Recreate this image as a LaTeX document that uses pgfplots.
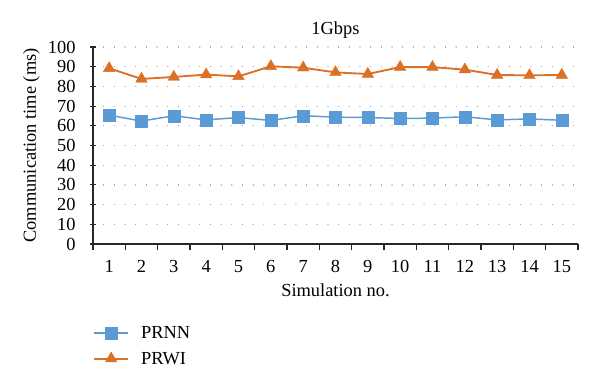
\documentclass[border=0pt]{standalone}
\usepackage{fontspec}
\setmainfont{Liberation Serif}
\usepackage{pgfplots}
\pgfplotsset{compat=1.18}
\definecolor{cblue}{RGB}{91,155,213}
\definecolor{corange}{RGB}{218,113,38}
\definecolor{cgrid}{RGB}{150,150,150}
\definecolor{caxis}{RGB}{40,40,40}
\begin{document}
\begin{tikzpicture}[font=\fontsize{13.8pt}{16.5pt}\selectfont]
\path[use as bounding box] (-69.75pt,-104.25pt) rectangle (380.25pt,183pt);
\begin{axis}[
  at={(0pt,0pt)}, anchor=south west,
  scale only axis, width=363.75pt, height=147.75pt,
  /pgf/number format/assume math mode=true,
  xmin=0.5, xmax=15.5, ymin=0, ymax=100,
  axis x line*=bottom, axis y line*=left,
  axis line style={caxis, line width=0.8pt, -},
  xtick={1,...,15},
  minor xtick={0.5,1.5,...,15.5},
  major x tick style={draw=none},
  minor x tick style={caxis, line width=0.8pt},
  xtick align=outside,
  minor tick length=4.5pt,
  ytick={0,10,...,100},
  y tick style={caxis, line width=0.8pt},
  ytick align=center,
  major tick length=4pt,
  ymajorgrids,
  grid style={cgrid, line width=0.9pt, dash pattern=on 0.01pt off 8pt, line cap=round},
  xticklabel style={anchor=base, inner sep=0pt, yshift=-17.5pt},
  yticklabel style={anchor=east, inner sep=0pt, xshift=-10.9pt},
  every axis title shift=0pt,
  title={1Gbps},
  title style={at={(axis description cs:0.5,1)}, anchor=base, inner sep=0pt, yshift=9.75pt},
  xlabel={Simulation no.},
  xlabel style={at={(axis description cs:0.5,0)}, anchor=base, inner sep=0pt, yshift=-39pt},
  ylabel={Communication time (ms)},
  ylabel style={at={(axis description cs:0,0.5)}, anchor=base, inner sep=0pt, yshift=42.75pt},
  legend style={draw=none, fill=none, at={(axis description cs:0,0)}, anchor=north west,
    yshift=-62pt, inner sep=0pt, row sep=9.75pt,
    nodes={inner sep=0pt, text height=9pt, text depth=0pt},
    /tikz/every odd column/.append style={column sep=9pt}},
  legend cell align=left,
  legend image code/.code={\draw[mark repeat=2,mark phase=2,#1] plot coordinates {(0pt,0pt) (12.75pt,0pt) (25.5pt,0pt)};},
]
\addplot[cblue, line width=1.1pt, mark=square*, mark size=4.5pt, mark options={fill=cblue, draw=cblue, line width=0.3pt}]
coordinates {(1,65.4) (2,62.4) (3,65.1) (4,63.0) (5,64.2) (6,62.7) (7,65.1) (8,64.4) (9,64.2) (10,63.7) (11,63.9) (12,64.6) (13,63.0) (14,63.5) (15,62.8)};
\addlegendentry{PRNN}
\addplot[corange, line width=1.4pt, mark=triangle*, mark size=5pt, mark options={fill=corange, draw=corange, line width=0.3pt}]
coordinates {(1,89.2) (2,83.8) (3,84.8) (4,86.0) (5,85.1) (6,90.2) (7,89.5) (8,87.1) (9,86.3) (10,89.8) (11,89.8) (12,88.5) (13,85.8) (14,85.6) (15,85.8)};
\addlegendentry{PRWI}
\end{axis}
\end{tikzpicture}
\end{document}
